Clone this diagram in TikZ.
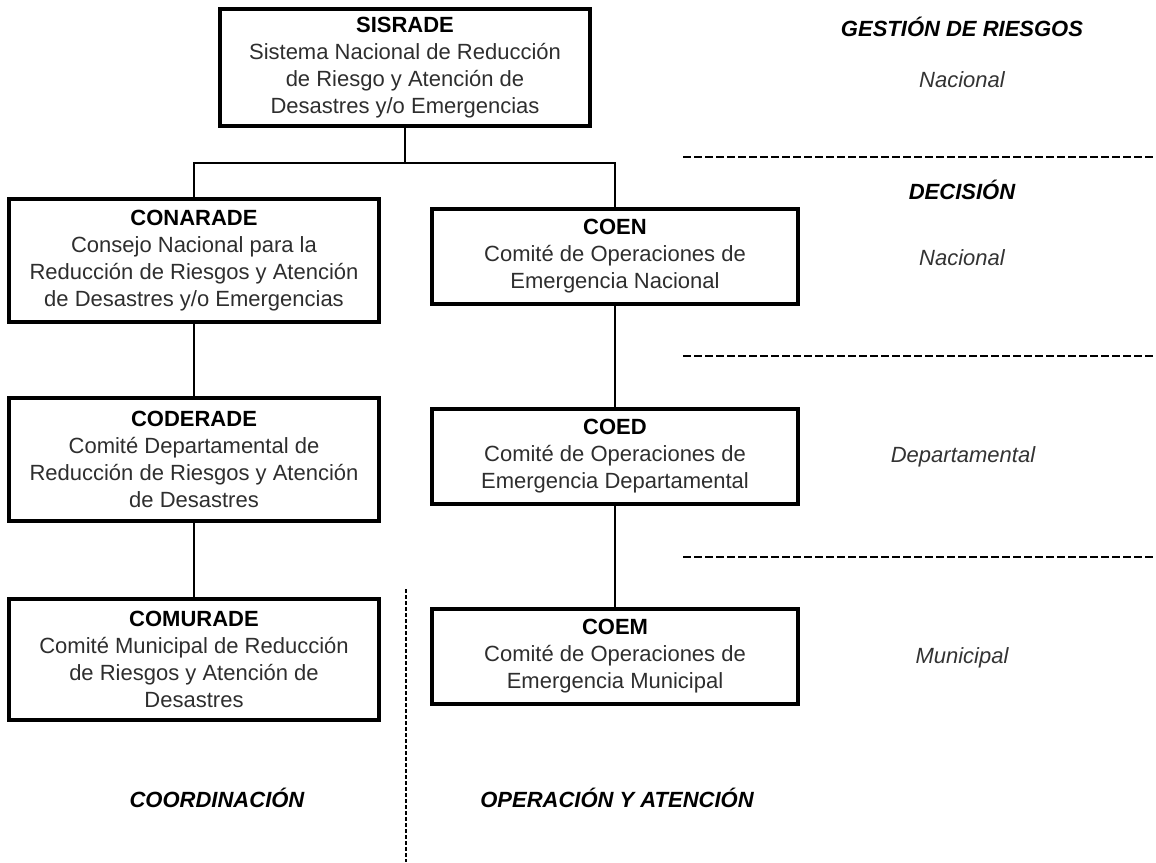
\documentclass[tikz,border=0pt]{standalone}
\usepackage{fontspec}
\setmainfont{Liberation Sans}
\usepackage{tikz}
\definecolor{txtgray}{HTML}{2E2E2E}
\definecolor{lblgray}{HTML}{333333}
\newcommand{\orgtitle}[1]{{\color{black}\bfseries #1}}

\begin{document}
\begin{tikzpicture}[x=0.5pt,y=-0.5pt,
  orgbox/.style n args={2}{draw,line width=1.6pt,minimum width=#1,minimum height=#2,inner sep=2pt,align=center,text=txtgray,font=\fontsize{11}{13.5}\selectfont},
  link/.style={line width=1.3pt},
  sepline/.style={line width=1.3pt,dash pattern=on 4pt off 1.5pt},
  colsep/.style={line width=1.3pt,dash pattern=on 2pt off 1pt},
  lvl/.style={text=lblgray,font=\fontsize{11}{13.5}\selectfont\itshape},
  head/.style={font=\fontsize{11}{13.5}\selectfont\bfseries\itshape}]
\useasboundingbox (0,0) rectangle (1156,862);
% boxes
\node[orgbox={185pt}{58.5pt}] (sisrade) at (405,67.5) {\orgtitle{SISRADE}\\Sistema Nacional de Reducción\\de Riesgo y Atención de\\Desastres y/o Emergencias};
\node[orgbox={185pt}{61.5pt}] (conarade) at (194,260.5) {\orgtitle{CONARADE}\\Consejo Nacional para la\\Reducción de Riesgos y Atención\\de Desastres y/o Emergencias};
\node[orgbox={185pt}{61.5pt}] (coderade) at (194,459.5) {\orgtitle{CODERADE}\\Comité Departamental de\\Reducción de Riesgos y Atención\\de Desastres};
\node[orgbox={185pt}{60.5pt}] (comurade) at (194,659.5) {\orgtitle{COMURADE}\\Comité Municipal de Reducción\\de Riesgos y Atención de\\Desastres};
\node[orgbox={183pt}{47.5pt}] (coen) at (615,256.5) {\orgtitle{COEN}\\Comité de Operaciones de\\Emergencia Nacional};
\node[orgbox={183pt}{47.5pt}] (coed) at (615,456.5) {\orgtitle{COED}\\Comité de Operaciones de\\Emergencia Departamental};
\node[orgbox={183pt}{47.5pt}] (coem) at (615,656.5) {\orgtitle{COEM}\\Comité de Operaciones de\\Emergencia Municipal};
% links
\coordinate (split) at (405,163);
\draw[link] (sisrade.south) -- (split);
\draw[link] (split) -| (conarade.north);
\draw[link] (split) -| (coen.north);
\draw[link] (conarade.south) -- (coderade.north);
\draw[link] (coderade.south) -- (comurade.north);
\draw[link] (coen.south) -- (coed.north);
\draw[link] (coed.south) -- (coem.north);
% level separators
\foreach \y in {157,356,557} {
   \draw[sepline] (683,\y) -- (1156,\y);
}
\draw[colsep] (406,589) -- (406,862);
% labels
\node[head] (gestion) at (962,27) {GESTIÓN DE RIESGOS};
\node[lvl] (nacA) at (962,80) {Nacional};
\node[head] (decision) at (962,190) {DECISIÓN};
\node[lvl] (nacB) at (962,258) {Nacional};
\node[lvl] (depto) at (963,457) {Departamental};
\node[lvl] (muni) at (962,658) {Municipal};
\node[head] (coord) at (217,798) {COORDINACIÓN};
\node[head] (oper) at (617,798) {OPERACIÓN Y ATENCIÓN};
\end{tikzpicture}
\end{document}
